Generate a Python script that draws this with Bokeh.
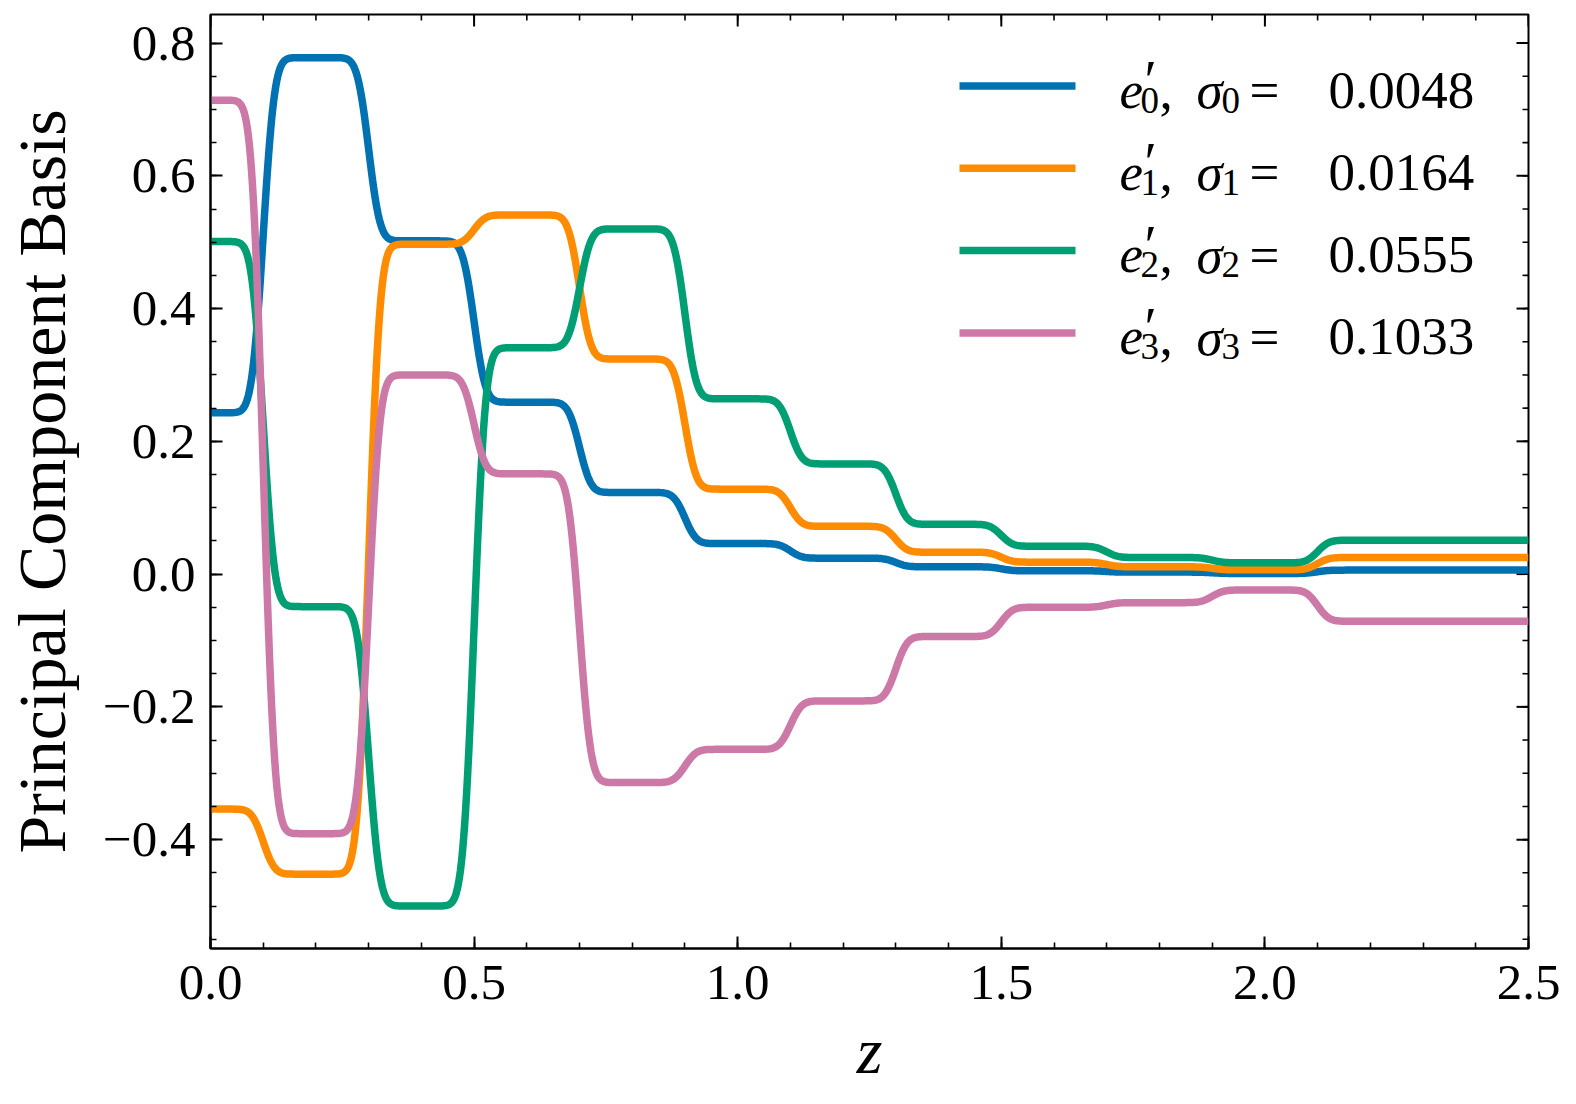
import math
import numpy as np
from bokeh.plotting import figure
from bokeh.models import Range1d, FixedTicker, Label, BoxAnnotation, CustomJSTickFormatter
from bokeh.embed import file_html
from bokeh.resources import INLINE

# ---------------- data ----------------
bin_edges = [0.1, 0.3, 0.5, 0.7, 0.9, 1.1, 1.3, 1.5, 1.7, 1.9, 2.1]
e0_levels = [0.243, 0.778, 0.502, 0.259, 0.123, 0.046, 0.024, 0.011, 0.005, 0.003, 0.001, 0.006]
e1_levels = [-0.354, -0.452, 0.497, 0.541, 0.324, 0.128, 0.072, 0.033, 0.018, 0.011, 0.0065, 0.025]
e2_levels = [0.501, -0.049, -0.500, 0.341, 0.520, 0.264, 0.166, 0.075, 0.042, 0.025, 0.017, 0.051]
e3_levels = [0.714, -0.391, 0.300, 0.151, -0.314, -0.264, -0.191, -0.094, -0.050, -0.043, -0.024, -0.071]
sigma_values = ["0.0048", "0.0164", "0.0555", "0.1033"]
component_index = ["0", "1", "2", "3"]
colors = ["#0072B2", "#FF8C00", "#009E73", "#CC79A7"]

x_major_ticks = [0.0, 0.5, 1.0, 1.5, 2.0, 2.5]
x_minor_ticks = [round(0.1 * i, 2) for i in range(26)]
y_major_ticks = [-0.4, -0.2, 0.0, 0.2, 0.4, 0.6, 0.8]
y_minor_ticks = [round(-0.55 + 0.05 * i, 2) for i in range(28)]

X0, X1 = 0.0, 2.5
Y0, Y1 = -0.564, 0.843

# ---------------- layout ----------------
FW, FH = 1318, 934
FL, FT = 210, 14
FONT = "Liberation Serif"
MAJ, MIN = 12, 6

def dx(px):
    return X0 + (px - FL) * (X1 - X0) / FW

def dy(py):
    return Y1 - (py - FT) * (Y1 - Y0) / FH

def smooth_steps(levels, edges, z, width=0.017):
    y = np.full_like(z, levels[0], dtype=float)
    s2 = width * math.sqrt(2.0)
    for k, e in enumerate(edges):
        step = 0.5 * (1.0 + np.array([math.erf((zz - e) / s2) for zz in z]))
        y = y + (levels[k + 1] - levels[k]) * step
    return y

z = np.linspace(X0, X1, 1251)

p = figure(frame_width=FW, frame_height=FH,
           x_range=Range1d(X0, X1), y_range=Range1d(Y0, Y1),
           output_backend="svg", toolbar_location=None,
           min_border_left=FL, min_border_right=46,
           min_border_top=FT, min_border_bottom=154)
p.background_fill_color = "white"
p.border_fill_color = "white"
p.outline_line_color = "black"
p.outline_line_width = 2
p.xgrid.visible = False
p.ygrid.visible = False

xt = FixedTicker(ticks=x_major_ticks, minor_ticks=x_minor_ticks)
yt = FixedTicker(ticks=y_major_ticks, minor_ticks=y_minor_ticks)
fmt = CustomJSTickFormatter(code="return tick.toFixed(1).replace('-', '\u2212');")

for ax, tk in [(p.xaxis[0], xt), (p.yaxis[0], yt)]:
    ax.ticker = tk
    ax.formatter = fmt
    ax.major_tick_in = MAJ
    ax.major_tick_out = 0
    ax.minor_tick_in = MIN
    ax.minor_tick_out = 0
    ax.major_tick_line_width = 2
    ax.minor_tick_line_width = 1.6
    ax.axis_line_width = 2
    ax.axis_line_color = "black"
    ax.major_tick_line_color = "black"
    ax.minor_tick_line_color = "black"
    ax.major_label_text_font = FONT
    ax.major_label_text_font_size = "51px"
    ax.major_label_text_color = "black"
    ax.axis_label_text_font = FONT
    ax.axis_label_text_color = "black"

p.xaxis[0].major_label_standoff = 17
p.yaxis[0].major_label_standoff = 15
p.xaxis[0].axis_label = "z"
p.xaxis[0].axis_label_text_font_size = "66px"
p.xaxis[0].axis_label_text_font_style = "italic"
p.xaxis[0].axis_label_standoff = 12
p.yaxis[0].axis_label = "Principal Component Basis"
p.yaxis[0].axis_label_text_font_size = "68px"
p.yaxis[0].axis_label_text_font_style = "normal"
p.yaxis[0].axis_label_standoff = 20

# mirrored inward ticks on the top and right edges
ty_maj = MAJ * (Y1 - Y0) / FH
ty_min = MIN * (Y1 - Y0) / FH
tx_maj = MAJ * (X1 - X0) / FW
tx_min = MIN * (X1 - X0) / FW
p.segment(x0=x_major_ticks, y0=[Y1] * len(x_major_ticks), x1=x_major_ticks,
          y1=[Y1 - ty_maj] * len(x_major_ticks), line_color="black", line_width=2)
p.segment(x0=x_minor_ticks, y0=[Y1] * len(x_minor_ticks), x1=x_minor_ticks,
          y1=[Y1 - ty_min] * len(x_minor_ticks), line_color="black", line_width=1.6)
p.segment(x0=[X1] * len(y_major_ticks), y0=y_major_ticks, x1=[X1 - tx_maj] * len(y_major_ticks),
          y1=y_major_ticks, line_color="black", line_width=2)
p.segment(x0=[X1] * len(y_minor_ticks), y0=y_minor_ticks, x1=[X1 - tx_min] * len(y_minor_ticks),
          y1=y_minor_ticks, line_color="black", line_width=1.6)

# ---------------- curves ----------------
for lev, c in zip([e0_levels, e1_levels, e2_levels, e3_levels], colors):
    p.line(z, smooth_steps(lev, bin_edges, z), line_color=c, line_width=7.5, line_join="round")

# ---------------- legend (manual, with sub/superscripts) ----------------
half = 3.75 * (Y1 - Y0) / FH
for i in range(4):
    hy = 85.5 + 82.3 * i
    p.add_layout(BoxAnnotation(left=dx(959), right=dx(1075), bottom=dy(hy) - half, top=dy(hy) + half,
                               fill_color=colors[i], fill_alpha=1.0, line_color=None, level="overlay"))
    base = hy + 4
    pieces = [
        ("e", 1119, base, "53px", "italic"),
        ("\u2032", 1144, base - 9, "56px", "normal"),
        (component_index[i], 1140, base + 10, "37px", "normal"),
        (",", 1159, base, "53px", "normal"),
        ("\u03c3", 1196, base, "53px", "italic"),
        (component_index[i], 1221, base + 10, "37px", "normal"),
        ("=", 1249, base, "53px", "normal"),
        (sigma_values[i], 1328, base, "53px", "normal"),
    ]
    for txt, px, py, fs, st in pieces:
        p.add_layout(Label(x=dx(px), y=dy(py), text=txt, text_font=FONT, text_font_size=fs,
                           text_font_style=st, text_color="black", text_align="left",
                           text_baseline="alphabetic"))

open("out.html", "w").write(file_html(p, INLINE))
